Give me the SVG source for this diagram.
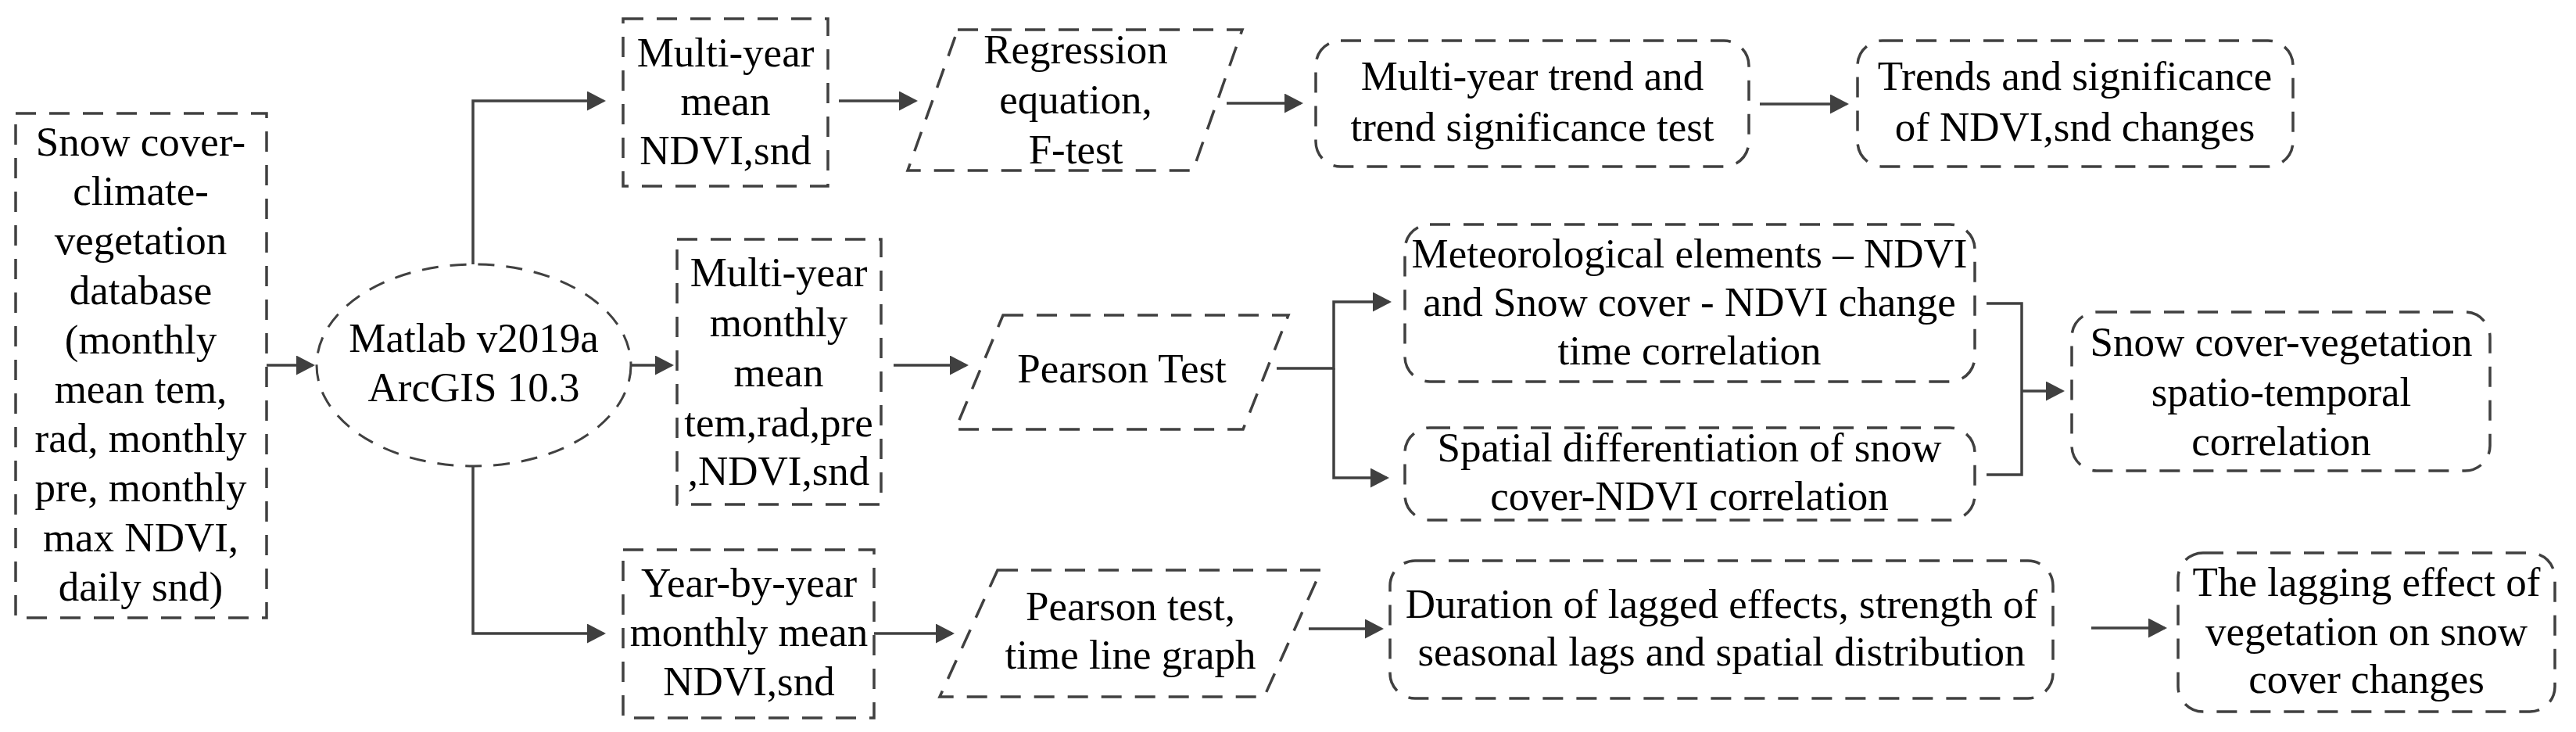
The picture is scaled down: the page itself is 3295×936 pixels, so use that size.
<svg xmlns="http://www.w3.org/2000/svg" width="3295" height="936" viewBox="0 0 3295 936">
<defs>
<style>
.bx{fill:none;stroke:#404040;stroke-width:3.5;stroke-dasharray:26 17}
.el{fill:none;stroke:#404040;stroke-width:3;stroke-dasharray:21 15}
.t{font-family:"Liberation Serif","Times New Roman",serif;font-size:53px;fill:#000;text-anchor:middle}
.c{fill:none;stroke:#404040;stroke-width:3.5}
.a{marker-end:url(#ah)}
</style>
<marker id="ah" markerUnits="userSpaceOnUse" markerWidth="26" markerHeight="26" refX="21" refY="12.5" orient="auto">
<path d="M0,0 L24,12.5 L0,25 Z" fill="#404040"/>
</marker>
</defs>
<rect width="3295" height="936" fill="#fff"/>

<g id="connectors">
<path class="c a" d="M341,467 H400"/>
<path class="c a" d="M605,338 V129 H772"/>
<path class="c a" d="M807,467 H859"/>
<path class="c a" d="M605,596 V810 H772"/>
<path class="c a" d="M1073,129 H1171"/>
<path class="c a" d="M1569,132 H1664"/>
<path class="c a" d="M2251,133 H2362"/>
<path class="c a" d="M1143,467 H1236"/>
<path class="c a" d="M1633,471 H1706 V386 H1777"/>
<path class="c a" d="M1706,471 V611 H1774"/>
<path class="c" d="M2541,388 H2586 V607 H2541"/>
<path class="c a" d="M2586,500 H2638"/>
<path class="c a" d="M1118,810 H1218"/>
<path class="c a" d="M1674,804 H1767"/>
<path class="c a" d="M2675,803 H2769"/>
</g>

<g id="n_database">
<rect class="bx" x="20" y="145" width="321" height="645"/>
<text class="t" x="180" y="199">Snow cover-</text>
<text class="t" x="180" y="262">climate-</text>
<text class="t" x="180" y="325">vegetation</text>
<text class="t" x="180" y="389">database</text>
<text class="t" x="180" y="452">(monthly</text>
<text class="t" x="180" y="515">mean tem,</text>
<text class="t" x="180" y="578">rad, monthly</text>
<text class="t" x="180" y="641">pre, monthly</text>
<text class="t" x="180" y="705">max NDVI,</text>
<text class="t" x="180" y="768">daily snd)</text>
</g>

<g id="n_tools">
<ellipse class="el" cx="606" cy="467" rx="201" ry="129"/>
<text class="t" x="606" y="450">Matlab v2019a</text>
<text class="t" x="606" y="513">ArcGIS 10.3</text>
</g>

<g id="n_mean">
<rect class="bx" x="797" y="24" width="262" height="214"/>
<text class="t" x="928" y="85">Multi-year</text>
<text class="t" x="928" y="147">mean</text>
<text class="t" x="928" y="210">NDVI,snd</text>
</g>

<g id="n_regression">
<polygon class="bx" points="1225,38 1589,38 1526,218 1161,218"/>
<text class="t" x="1376" y="81">Regression</text>
<text class="t" x="1376" y="145">equation,</text>
<text class="t" x="1376" y="209">F-test</text>
</g>

<g id="n_trend">
<rect class="bx" x="1683" y="52" width="554" height="161" rx="32" ry="32"/>
<text class="t" x="1960" y="115">Multi-year trend and</text>
<text class="t" x="1960" y="180">trend significance test</text>
</g>

<g id="n_significance">
<rect class="bx" x="2376" y="52" width="557" height="161" rx="32" ry="32"/>
<text class="t" x="2654" y="115">Trends and significance</text>
<text class="t" x="2654" y="180">of NDVI,snd changes</text>
</g>

<g id="n_monthly">
<rect class="bx" x="866" y="306" width="261" height="339"/>
<text class="t" x="996" y="366">Multi-year</text>
<text class="t" x="996" y="430">monthly</text>
<text class="t" x="996" y="494">mean</text>
<text class="t" x="996" y="558">tem,rad,pre</text>
<text class="t" x="996" y="620">,NDVI,snd</text>
</g>

<g id="n_pearson">
<polygon class="bx" points="1283,403 1648,403 1590,549 1222,549"/>
<text class="t" x="1435" y="489">Pearson Test</text>
</g>

<g id="n_meteorological">
<rect class="bx" x="1797" y="287" width="729" height="201" rx="32" ry="32"/>
<text class="t" x="2161" y="342">Meteorological elements – NDVI</text>
<text class="t" x="2161" y="404">and Snow cover - NDVI change</text>
<text class="t" x="2161" y="466">time correlation</text>
</g>

<g id="n_spatial">
<rect class="bx" x="1797" y="547" width="729" height="118" rx="32" ry="32"/>
<text class="t" x="2161" y="590">Spatial differentiation of snow</text>
<text class="t" x="2161" y="652">cover-NDVI correlation</text>
</g>

<g id="n_spatiotemporal">
<rect class="bx" x="2650" y="399" width="535" height="203" rx="32" ry="32"/>
<text class="t" x="2918" y="455">Snow cover-vegetation</text>
<text class="t" x="2918" y="519">spatio-temporal</text>
<text class="t" x="2918" y="582">correlation</text>
</g>

<g id="n_yearbyyear">
<rect class="bx" x="797" y="703" width="321" height="215"/>
<text class="t" x="958" y="763">Year-by-year</text>
<text class="t" x="958" y="826">monthly mean</text>
<text class="t" x="958" y="889">NDVI,snd</text>
</g>

<g id="n_pearsontime">
<polygon class="bx" points="1276,729 1690,729 1617,891 1202,891"/>
<text class="t" x="1446" y="793">Pearson test,</text>
<text class="t" x="1446" y="855">time line graph</text>
</g>

<g id="n_duration">
<rect class="bx" x="1778" y="717" width="848" height="176" rx="32" ry="32"/>
<text class="t" x="2202" y="790">Duration of lagged effects, strength of</text>
<text class="t" x="2202" y="851">seasonal lags and spatial distribution</text>
</g>

<g id="n_lagging">
<rect class="bx" x="2786" y="707" width="482" height="203" rx="32" ry="32"/>
<text class="t" x="3027" y="762">The lagging effect of</text>
<text class="t" x="3027" y="825">vegetation on snow</text>
<text class="t" x="3027" y="886">cover changes</text>
</g>
</svg>
